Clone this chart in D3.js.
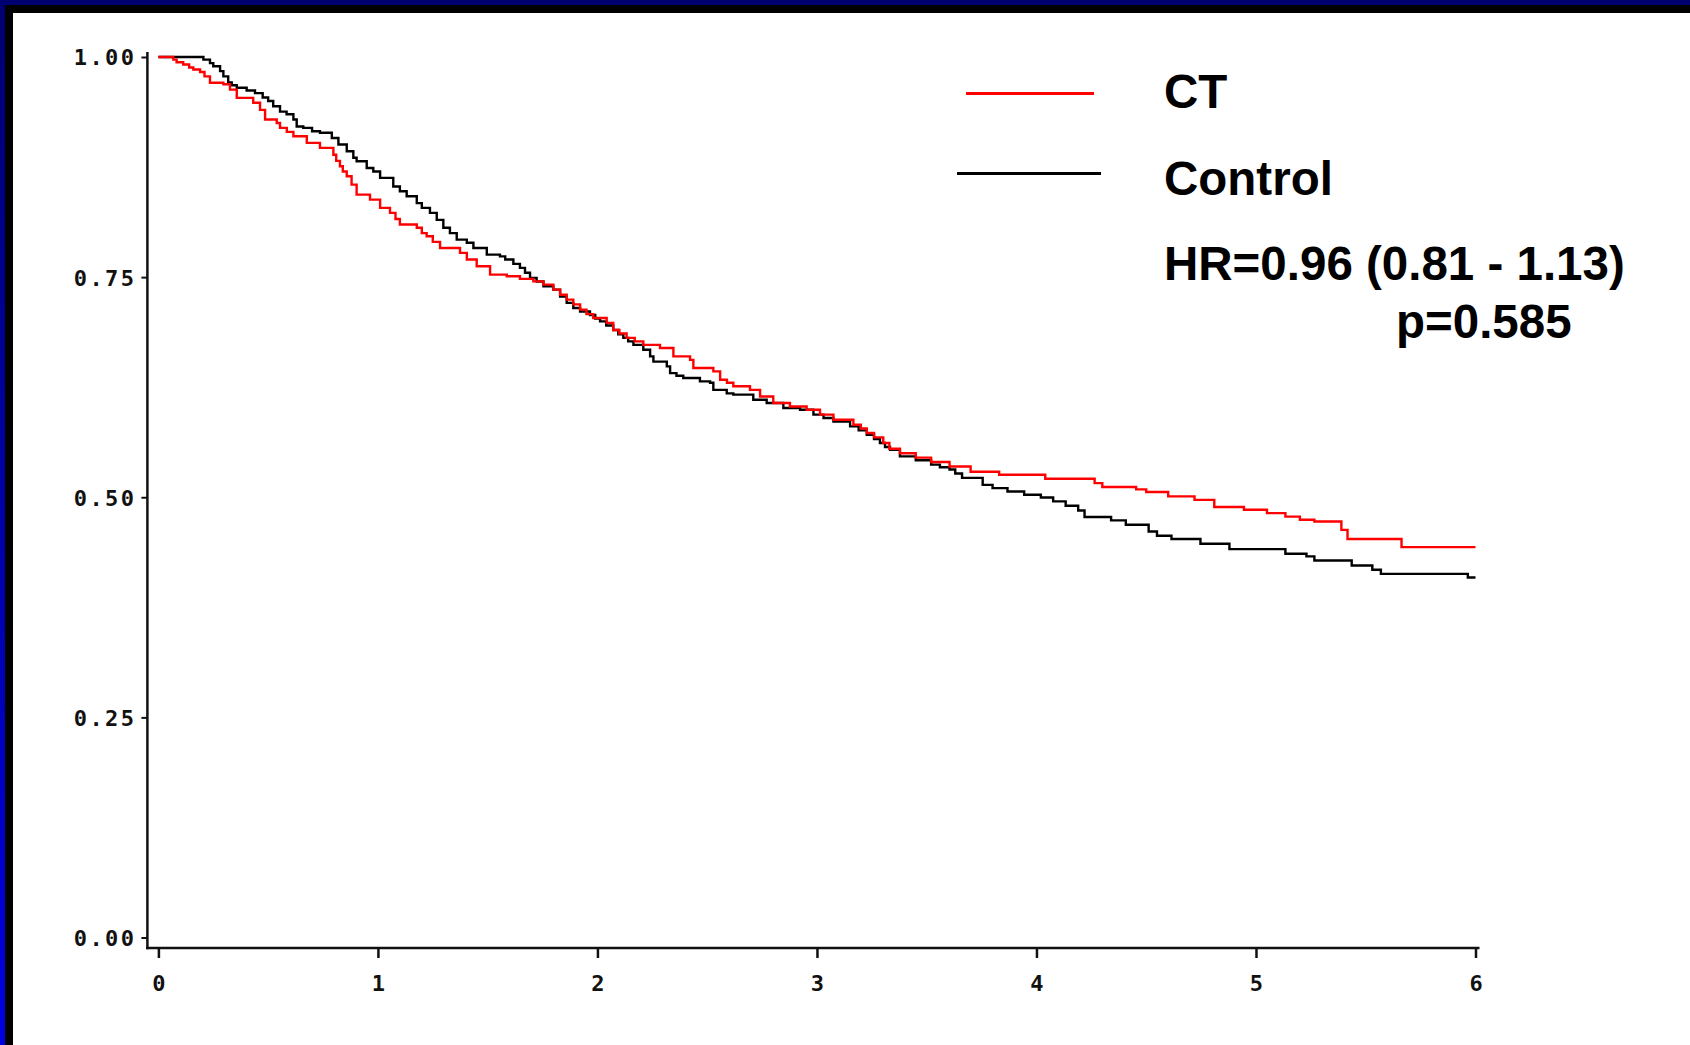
<!DOCTYPE html>
<html>
<head>
<meta charset="utf-8">
<script src="https://cdn.jsdelivr.net/npm/d3@7"></script>
<style>
  html, body { margin: 0; padding: 0; background: #fff; }
  svg { display: block; }
</style>
</head>
<body>
<svg id="chart" width="1690" height="1045"></svg>
<script>
// ---------------- DATA ----------------
const seriesNames = ["CT", "Control"];
const seriesColors = ["#ff0000", "#000000"];

// Kaplan-Meier step knots: time (years) and survival after the step
const ctTimes = [0,0.068,0.083,0.113,0.14,0.159,0.19,0.21,0.235,0.296,0.326,0.357,0.432,0.463,0.486,0.539,0.554,0.585,0.615,0.676,0.736,0.797,0.81,0.827,0.84,0.858,0.88,0.903,0.964,1.01,1.055,1.08,1.1,1.177,1.2,1.222,1.25,1.283,1.374,1.405,1.45,1.511,1.587,1.647,1.708,1.754,1.799,1.83,1.86,1.89,1.921,1.95,1.981,2.042,2.072,2.1,2.133,2.17,2.209,2.285,2.346,2.422,2.437,2.528,2.559,2.59,2.619,2.695,2.741,2.801,2.877,2.953,3.014,3.075,3.166,3.2,3.227,3.26,3.302,3.33,3.378,3.45,3.52,3.604,3.7,3.83,4.04,4.265,4.3,4.454,4.5,4.6,4.72,4.81,4.945,5.05,5.134,5.2,5.266,5.389,5.417,5.663,6.0];
const ctSurv  = [1.0,0.997,0.994,0.9915,0.988,0.9858,0.983,0.978,0.9707,0.969,0.963,0.9536,0.948,0.940,0.929,0.925,0.9195,0.915,0.910,0.9025,0.8968,0.889,0.882,0.876,0.870,0.8646,0.855,0.8437,0.838,0.8286,0.823,0.816,0.8097,0.806,0.80,0.7964,0.79,0.783,0.7775,0.770,0.7623,0.7528,0.751,0.748,0.7452,0.7415,0.7358,0.73,0.7244,0.719,0.7131,0.708,0.7036,0.698,0.690,0.686,0.681,0.677,0.673,0.6695,0.660,0.656,0.6468,0.643,0.6335,0.63,0.626,0.622,0.6145,0.607,0.603,0.5994,0.5938,0.588,0.5824,0.578,0.573,0.568,0.5616,0.555,0.550,0.545,0.540,0.535,0.529,0.5256,0.521,0.516,0.5116,0.509,0.506,0.501,0.497,0.4889,0.4858,0.482,0.478,0.4744,0.4725,0.463,0.4525,0.4434,0.4434];

const ctrlTimes = [0,0.205,0.235,0.25,0.281,0.296,0.318,0.334,0.357,0.402,0.44,0.475,0.5,0.523,0.554,0.584,0.615,0.63,0.66,0.7,0.736,0.79,0.82,0.858,0.888,0.903,0.949,0.979,1.01,1.07,1.1,1.131,1.177,1.2,1.237,1.268,1.298,1.328,1.359,1.405,1.435,1.496,1.556,1.58,1.617,1.647,1.67,1.693,1.723,1.754,1.799,1.83,1.86,1.89,1.921,1.966,1.99,2.012,2.04,2.072,2.095,2.118,2.14,2.164,2.209,2.24,2.255,2.316,2.331,2.36,2.391,2.467,2.513,2.528,2.589,2.619,2.71,2.771,2.847,2.923,2.984,3.03,3.075,3.151,3.19,3.227,3.26,3.287,3.31,3.333,3.378,3.45,3.52,3.56,3.604,3.63,3.661,3.755,3.8,3.868,3.944,4.02,4.076,4.133,4.19,4.219,4.34,4.407,4.511,4.549,4.615,4.747,4.879,5.134,5.23,5.266,5.436,5.53,5.569,5.965,6.0];
const ctrlSurv  = [1.0,0.997,0.993,0.9895,0.984,0.978,0.971,0.968,0.965,0.962,0.959,0.954,0.950,0.944,0.938,0.935,0.929,0.921,0.9195,0.9157,0.9139,0.908,0.9006,0.893,0.8855,0.8816,0.874,0.870,0.8627,0.853,0.8475,0.8418,0.834,0.8286,0.823,0.815,0.806,0.800,0.7926,0.789,0.783,0.7756,0.7736,0.770,0.765,0.7605,0.755,0.749,0.745,0.7396,0.7358,0.728,0.7207,0.715,0.711,0.707,0.703,0.6998,0.695,0.690,0.685,0.681,0.677,0.673,0.6676,0.660,0.654,0.6486,0.641,0.638,0.6355,0.6316,0.630,0.622,0.618,0.6165,0.6108,0.607,0.6014,0.5994,0.5938,0.590,0.586,0.5805,0.576,0.571,0.566,0.5616,0.557,0.554,0.5464,0.542,0.537,0.534,0.5315,0.527,0.522,0.514,0.5104,0.5066,0.5028,0.4998,0.4953,0.4903,0.485,0.4775,0.4737,0.4688,0.4611,0.4562,0.4525,0.4472,0.4411,0.4358,0.4328,0.4282,0.4225,0.4176,0.413,0.4089,0.4089];

const xTickValues = [0,1,2,3,4,5,6];
const yTickValues = [0,0.25,0.5,0.75,1.0];
const yTickLabels = ["0.00","0.25","0.50","0.75","1.00"];
const statLines = ["HR=0.96 (0.81 - 1.13)", "p=0.585"];

// ---------------- DRAW ----------------
const svg = d3.select("#chart");

// slide frame
const defs = svg.append("defs");
const grad = defs.append("linearGradient").attr("id","leftBlue")
  .attr("x1","0").attr("y1","0").attr("x2","0").attr("y2","1");
grad.append("stop").attr("offset","0").attr("stop-color","#000070");
grad.append("stop").attr("offset","0.5").attr("stop-color","#0000a8");
grad.append("stop").attr("offset","1").attr("stop-color","#0000e0");

svg.append("rect").attr("x",0).attr("y",0).attr("width",1690).attr("height",1045).attr("fill","#ffffff");
svg.append("rect").attr("x",0).attr("y",0).attr("width",1690).attr("height",5).attr("fill","#000070");
svg.append("rect").attr("x",0).attr("y",0).attr("width",5).attr("height",1045).attr("fill","url(#leftBlue)");
svg.append("rect").attr("x",5).attr("y",5).attr("width",1685).attr("height",8).attr("fill","#000000");
svg.append("rect").attr("x",5).attr("y",5).attr("width",8).attr("height",1040).attr("fill","#000000");

const x = d3.scaleLinear().domain([0,6]).range([158.4, 1475.5]);
const y = d3.scaleLinear().domain([0,1]).range([937.5, 57]);

const xAxisY = y(0) + 10.5;
const yAxisX = x(0) - 11;

const tickFont = "'DejaVu Sans Mono', 'Liberation Mono', monospace";

// Y axis
const yAxis = d3.axisLeft(y).tickValues(yTickValues)
  .tickSize(6).tickSizeOuter(0)
  .tickFormat((d,i) => yTickLabels[i]);
const gy = svg.append("g").attr("transform", `translate(${yAxisX},0)`).call(yAxis);
gy.select(".domain").remove();
gy.selectAll(".tick line").attr("stroke","#111").attr("stroke-width",2);
gy.selectAll(".tick text")
  .attr("x", -11).attr("dy", "0.36em")
  .style("font-family", tickFont).style("font-weight","bold")
  .style("font-size","22px").style("letter-spacing","2.4px")
  .attr("fill","#111");

// X axis
const xAxis = d3.axisBottom(x).tickValues(xTickValues)
  .tickSize(10).tickSizeOuter(0).tickFormat(d3.format("d"));
const gx = svg.append("g").attr("transform", `translate(0,${xAxisY})`).call(xAxis);
gx.select(".domain").remove();
gx.selectAll(".tick line").attr("stroke","#111").attr("stroke-width",2.5);
gx.selectAll(".tick text")
  .attr("y", 27)
  .style("font-family", tickFont).style("font-weight","bold")
  .style("font-size","22px")
  .attr("fill","#111");

// spines
svg.append("line").attr("x1", yAxisX).attr("x2", yAxisX)
  .attr("y1", y(1) - 5).attr("y2", xAxisY + 1.25)
  .attr("stroke","#111").attr("stroke-width",2.5);
svg.append("line").attr("x1", yAxisX - 1.25).attr("x2", x(6) + 4)
  .attr("y1", xAxisY).attr("y2", xAxisY)
  .attr("stroke","#111").attr("stroke-width",2.5);

// curves
const line = d3.line().x(d => x(d[0])).y(d => y(d[1])).curve(d3.curveStepAfter);
const ctData = ctTimes.map((t,i) => [t, ctSurv[i]]);
const ctrlData = ctrlTimes.map((t,i) => [t, ctrlSurv[i]]);

svg.append("path").datum(ctrlData).attr("d", line)
  .attr("fill","none").attr("stroke", seriesColors[1]).attr("stroke-width", 2.4);
svg.append("path").datum(ctData).attr("d", line)
  .attr("fill","none").attr("stroke", seriesColors[0]).attr("stroke-width", 2.4);

// legend
const legFont = "'Liberation Sans', Arial, Helvetica, sans-serif";
svg.append("line").attr("x1",966).attr("x2",1094).attr("y1",93.5).attr("y2",93.5)
  .attr("stroke", seriesColors[0]).attr("stroke-width",3);
svg.append("line").attr("x1",957).attr("x2",1101).attr("y1",173.5).attr("y2",173.5)
  .attr("stroke", seriesColors[1]).attr("stroke-width",3);

const legText = [
  {t: seriesNames[0], x: 1164, y: 108},
  {t: seriesNames[1], x: 1164, y: 195},
  {t: statLines[0], x: 1164, y: 280},
  {t: statLines[1], x: 1396, y: 338}
];
svg.selectAll("text.leg").data(legText).enter().append("text")
  .attr("class","leg")
  .attr("x", d => d.x).attr("y", d => d.y)
  .style("font-family", legFont).style("font-weight","bold").style("font-size","47.5px")
  .attr("fill","#000")
  .text(d => d.t);
</script>
</body>
</html>
